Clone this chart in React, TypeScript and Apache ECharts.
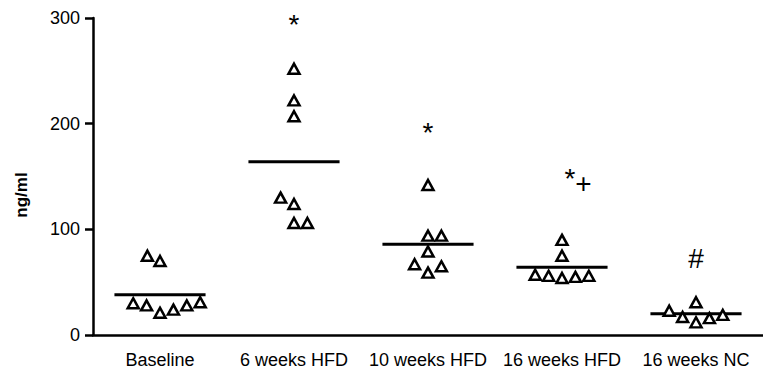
import React, { useEffect, useRef } from "react";
import * as echarts from "echarts";

const categories = ["Baseline", "6 weeks HFD", "10 weeks HFD", "16 weeks HFD", "16 weeks NC"];
const yTicks = [0, 100, 200, 300];
const yTitle = "ng/ml";

// values per group (ng/ml)
const baseline = [75, 70, 30, 28, 21, 24, 28, 31];
const hfd6 = [252, 222, 207, 130, 124, 106, 106];
const hfd10 = [142, 94, 94, 79, 67, 59, 65];
const hfd16 = [90, 75, 57, 56, 54, 55, 56];
const nc16 = [31, 23, 17, 12, 16, 19];

// horizontal jitter within the category (in category units)
const baselineJitter = [-0.094, 0, -0.2, -0.1, 0, 0.1, 0.2, 0.3];
const hfd6Jitter = [0, 0, 0, -0.1, 0, 0, 0.1];
const hfd10Jitter = [0, 0, 0.1, 0, -0.1, 0, 0.1];
const hfd16Jitter = [0, 0, -0.2, -0.1, 0, 0.1, 0.2];
const nc16Jitter = [0, -0.2, -0.1, 0, 0.1, 0.2];

// group means (horizontal bars)
const means = [38, 164, 86, 64, 20];

// significance marks
const markText = ["*", "*", "*", "+", "#"];
const markCategory = [1, 2, 3, 3, 4];
const markValue = [294, 192, 148, 143, 72];
const markShift = [0, 0, 0.06, 0.16, 0];

const groups = [baseline, hfd6, hfd10, hfd16, nc16];
const jitters = [baselineJitter, hfd6Jitter, hfd10Jitter, hfd16Jitter, nc16Jitter];

const FONT = "'Liberation Sans', Arial, Helvetica, sans-serif";

export default function App() {
  const ref = useRef<HTMLDivElement>(null);
  useEffect(() => {
    document.body.style.margin = "0";
    const chart = echarts.init(ref.current!, null, { renderer: "svg" });
    const points: number[][] = [];
    groups.forEach((g, i) => {
      g.forEach((v, j) => points.push([i + jitters[i][j], v]));
    });
    const marks = markText.map((t, i) => ({
      value: [markCategory[i] + markShift[i], markValue[i]],
      label: { formatter: t },
    }));
    chart.setOption({
      animation: false,
      grid: { left: 93, right: 0, top: 18, bottom: 35 },
      graphic: [
        {
          type: "text",
          x: 21,
          y: 195,
          rotation: Math.PI / 2,
          style: {
            text: yTitle,
            fill: "#000",
            font: `bold 17px ${FONT}`,
            textAlign: "center",
            textVerticalAlign: "middle",
          },
        },
      ],
      xAxis: [
        {
          type: "category",
          data: categories,
          boundaryGap: true,
          axisLine: { lineStyle: { color: "#000", width: 2.5 } },
          axisTick: { alignWithLabel: true, length: 8, lineStyle: { color: "#000", width: 2.5 } },
          axisLabel: { color: "#000", fontSize: 18, fontFamily: FONT, margin: 16, interval: 0 },
          splitLine: { show: false },
        },
        { type: "value", min: -0.5, max: 4.5, show: false },
      ],
      yAxis: {
        type: "value",
        min: yTicks[0],
        max: yTicks[yTicks.length - 1],
        interval: 100,
        axisLine: { show: true, onZero: false, lineStyle: { color: "#000", width: 2.5 } },
        axisTick: { show: true, length: 8, lineStyle: { color: "#000", width: 2.5 } },
        axisLabel: { color: "#000", fontSize: 18, fontFamily: FONT, margin: 13 },
        splitLine: { show: false },
      },
      series: [
        {
          type: "custom",
          xAxisIndex: 1,
          data: means.map((m, i) => [i, m]),
          renderItem: (params: any, api: any) => {
            const c = api.value(0);
            const v = api.value(1);
            const p1 = api.coord([c - 0.34, v]);
            const p2 = api.coord([c + 0.34, v]);
            return {
              type: "line",
              shape: { x1: p1[0], y1: p1[1], x2: p2[0], y2: p2[1] },
              style: { stroke: "#000", lineWidth: 3 },
            };
          },
          z: 1,
        },
        {
          type: "scatter",
          xAxisIndex: 1,
          data: points,
          symbol: "triangle",
          symbolSize: [11, 10],
          itemStyle: { color: "#fff", borderColor: "#000", borderWidth: 2.5, opacity: 1 },
          z: 2,
        },
        {
          type: "scatter",
          xAxisIndex: 1,
          data: marks,
          symbolSize: 0,
          itemStyle: { opacity: 1 },
          label: {
            show: true,
            position: "inside",
            color: "#000",
            fontSize: 28,
            fontFamily: FONT,
          },
          z: 3,
        },
      ],
    });
    return () => chart.dispose();
  }, []);
  return <div ref={ref} style={{ width: 763, height: 370 }} />;
}
